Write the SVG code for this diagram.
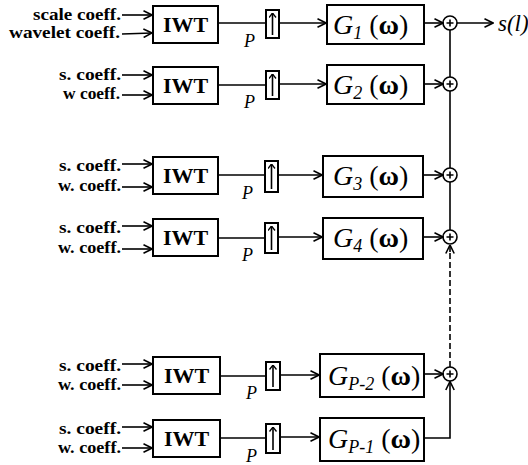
<svg xmlns="http://www.w3.org/2000/svg" width="528" height="465" viewBox="0 0 528 465">
<style>
.bx{fill:#fff;stroke:#000;stroke-width:2}
.ln{fill:none;stroke:#000;stroke-width:1.6}
.ar{fill:none;stroke:#000;stroke-width:1.6;marker-end:url(#chev)}
text{font-family:'Liberation Serif','DejaVu Serif',serif}
.lbl{font-weight:bold;font-size:17px;text-anchor:end}
.lbl1{font-weight:bold;font-size:16px;text-anchor:end}
.iwt{font-weight:bold;font-size:22px;text-anchor:middle}
.p{font-style:italic;font-size:18px}
.g{font-size:28px}
.gi{font-style:italic}
.sub{font-style:italic;font-size:18px}
.om{font-weight:bold}
.out{font-style:italic;font-size:23px}
.add{fill:#fff;stroke:#000;stroke-width:1.6}
</style>
<defs>
<marker id="chev" viewBox="0 0 10 10" refX="9.5" refY="5" markerWidth="10" markerHeight="10" markerUnits="userSpaceOnUse" orient="auto">
<path d="M1,0.8 L9.5,5 L1,9.2" fill="none" stroke="#000" stroke-width="1.6"/>
</marker>
<marker id="up" viewBox="0 0 8 8" refX="4" refY="0.5" markerWidth="8" markerHeight="8" markerUnits="userSpaceOnUse" orient="0">
<path d="M0.5,5 L4,0.5 L7.5,5" fill="none" stroke="#000" stroke-width="1.3"/>
</marker>
</defs>

<!-- inputs / labels -->
<g id="labels">
<text class="lbl1" x="121" y="19.5" textLength="88" lengthAdjust="spacingAndGlyphs">scale coeff.</text>
<text class="lbl1" x="120" y="37.5" textLength="111" lengthAdjust="spacingAndGlyphs">wavelet coeff.</text>
<text class="lbl" x="121" y="80" textLength="62" lengthAdjust="spacingAndGlyphs">s. coeff.</text>
<text class="lbl" x="120" y="99" textLength="57" lengthAdjust="spacingAndGlyphs">w coeff.</text>
<text class="lbl" x="121" y="171" textLength="62" lengthAdjust="spacingAndGlyphs">s. coeff.</text>
<text class="lbl" x="121" y="191" textLength="63" lengthAdjust="spacingAndGlyphs">w. coeff.</text>
<text class="lbl" x="121" y="233" textLength="62" lengthAdjust="spacingAndGlyphs">s. coeff.</text>
<text class="lbl" x="121" y="253" textLength="63" lengthAdjust="spacingAndGlyphs">w. coeff.</text>
<text class="lbl" x="121" y="371" textLength="62" lengthAdjust="spacingAndGlyphs">s. coeff.</text>
<text class="lbl" x="121" y="390" textLength="63" lengthAdjust="spacingAndGlyphs">w. coeff.</text>
<text class="lbl" x="121" y="434" textLength="62" lengthAdjust="spacingAndGlyphs">s. coeff.</text>
<text class="lbl" x="121" y="453" textLength="63" lengthAdjust="spacingAndGlyphs">w. coeff.</text>
<text class="p" x="244" y="47">P</text>
<text class="p" x="244" y="108">P</text>
<text class="p" x="242" y="199">P</text>
<text class="p" x="242" y="261">P</text>
<text class="p" x="246" y="399">P</text>
<text class="p" x="246" y="462">P</text>
<text class="out" x="498" y="31">s(l)</text>
</g>

<!-- IWT blocks -->
<g id="iwt1"><rect class="bx" x="153" y="6" width="65" height="37"/><text class="iwt" x="185.5" y="32">IWT</text></g>
<g id="iwt2"><rect class="bx" x="153" y="67" width="65" height="37"/><text class="iwt" x="185.5" y="93">IWT</text></g>
<g id="iwt3"><rect class="bx" x="153" y="157" width="65" height="37"/><text class="iwt" x="185.5" y="183">IWT</text></g>
<g id="iwt4"><rect class="bx" x="153" y="219" width="65" height="37"/><text class="iwt" x="185.5" y="245">IWT</text></g>
<g id="iwt5"><rect class="bx" x="153" y="357" width="67" height="37"/><text class="iwt" x="186.5" y="383">IWT</text></g>
<g id="iwt6"><rect class="bx" x="153" y="420" width="67" height="37"/><text class="iwt" x="186.5" y="446">IWT</text></g>

<!-- upsamplers -->
<g id="up1"><rect class="bx" x="266" y="10" width="13" height="28"/><line class="ln" x1="272.5" y1="35" x2="272.5" y2="13" stroke-width="1.3" marker-end="url(#up)"/></g>
<g id="up2"><rect class="bx" x="266" y="71" width="13" height="28"/><line class="ln" x1="272.5" y1="96" x2="272.5" y2="74" stroke-width="1.3" marker-end="url(#up)"/></g>
<g id="up3"><rect class="bx" x="265" y="161" width="13" height="31"/><line class="ln" x1="271.5" y1="189" x2="271.5" y2="164" stroke-width="1.3" marker-end="url(#up)"/></g>
<g id="up4"><rect class="bx" x="265" y="223" width="13" height="30"/><line class="ln" x1="271.5" y1="250" x2="271.5" y2="226" stroke-width="1.3" marker-end="url(#up)"/></g>
<g id="up5"><rect class="bx" x="266" y="362" width="14" height="28"/><line class="ln" x1="273" y1="387" x2="273" y2="365" stroke-width="1.3" marker-end="url(#up)"/></g>
<g id="up6"><rect class="bx" x="266" y="424" width="14" height="29"/><line class="ln" x1="273" y1="450" x2="273" y2="427" stroke-width="1.3" marker-end="url(#up)"/></g>

<!-- filters -->
<g id="g1"><rect class="bx" x="327" y="5" width="97" height="39"/><text class="g" x="333" y="34"><tspan class="gi">G</tspan><tspan class="sub" dy="5">1</tspan><tspan dy="-5"> (</tspan><tspan class="om">ω</tspan>)</text></g>
<g id="g2"><rect class="bx" x="327" y="65" width="97" height="39"/><text class="g" x="333" y="94"><tspan class="gi">G</tspan><tspan class="sub" dy="5">2</tspan><tspan dy="-5"> (</tspan><tspan class="om">ω</tspan>)</text></g>
<g id="g3"><rect class="bx" x="323" y="156" width="100" height="41"/><text class="g" x="333" y="185"><tspan class="gi">G</tspan><tspan class="sub" dy="5">3</tspan><tspan dy="-5"> (</tspan><tspan class="om">ω</tspan>)</text></g>
<g id="g4"><rect class="bx" x="323" y="218" width="100" height="41"/><text class="g" x="333" y="247"><tspan class="gi">G</tspan><tspan class="sub" dy="5">4</tspan><tspan dy="-5"> (</tspan><tspan class="om">ω</tspan>)</text></g>
<g id="g5"><rect class="bx" x="320" y="354" width="104" height="43"/><text class="g" x="328" y="385"><tspan class="gi">G</tspan><tspan class="sub" dy="5">P-2</tspan><tspan dy="-5"> (</tspan><tspan class="om">ω</tspan>)</text></g>
<g id="g6"><rect class="bx" x="320" y="418" width="104" height="43"/><text class="g" x="328" y="448"><tspan class="gi">G</tspan><tspan class="sub" dy="5">P-1</tspan><tspan dy="-5"> (</tspan><tspan class="om">ω</tspan>)</text></g>

<!-- adders -->
<g id="add1"><circle class="add" cx="450" cy="23" r="7"/><path class="ln" d="M446.5,23 H453.5 M450,19.5 V26.5" stroke-width="1.2"/></g>
<g id="add2"><circle class="add" cx="450" cy="84" r="7"/><path class="ln" d="M446.5,84 H453.5 M450,80.5 V87.5" stroke-width="1.2"/></g>
<g id="add3"><circle class="add" cx="450" cy="175" r="7"/><path class="ln" d="M446.5,175 H453.5 M450,171.5 V178.5" stroke-width="1.2"/></g>
<g id="add4"><circle class="add" cx="450" cy="237" r="7"/><path class="ln" d="M446.5,237 H453.5 M450,233.5 V240.5" stroke-width="1.2"/></g>
<g id="add5"><circle class="add" cx="450" cy="374" r="7"/><path class="ln" d="M446.5,374 H453.5 M450,370.5 V377.5" stroke-width="1.2"/></g>

<!-- connectors -->
<g id="connectors">
<line class="ar" x1="122" y1="15" x2="152" y2="15"/>
<line class="ar" x1="122" y1="34" x2="152" y2="33"/>
<line class="ar" x1="122" y1="75" x2="152" y2="75"/>
<line class="ar" x1="122" y1="95" x2="152" y2="95"/>
<line class="ar" x1="122" y1="164" x2="152" y2="164"/>
<line class="ar" x1="122" y1="187" x2="152" y2="187"/>
<line class="ar" x1="122" y1="226" x2="152" y2="226"/>
<line class="ar" x1="122" y1="249" x2="152" y2="249"/>
<line class="ar" x1="122" y1="364" x2="152" y2="364"/>
<line class="ar" x1="122" y1="385" x2="152" y2="385"/>
<line class="ar" x1="122" y1="427" x2="152" y2="427"/>
<line class="ar" x1="122" y1="448" x2="152" y2="448"/>

<line class="ln" x1="218" y1="23" x2="266" y2="23"/>
<line class="ln" x1="218" y1="85" x2="266" y2="85"/>
<line class="ln" x1="218" y1="175" x2="265" y2="175"/>
<line class="ln" x1="218" y1="238" x2="265" y2="238"/>
<line class="ln" x1="220" y1="376" x2="266" y2="376"/>
<line class="ln" x1="220" y1="438" x2="266" y2="438"/>

<line class="ar" x1="279" y1="23" x2="326" y2="23"/>
<line class="ar" x1="279" y1="84" x2="326" y2="84"/>
<line class="ar" x1="278" y1="175" x2="322" y2="175"/>
<line class="ar" x1="278" y1="237" x2="322" y2="237"/>
<line class="ar" x1="280" y1="375" x2="319" y2="375"/>
<line class="ar" x1="280" y1="437" x2="319" y2="437"/>

<line class="ar" x1="424" y1="23" x2="443" y2="23"/>
<line class="ar" x1="424" y1="84" x2="443" y2="84"/>
<line class="ar" x1="423" y1="175" x2="443" y2="175"/>
<line class="ar" x1="423" y1="237" x2="443" y2="237"/>
<line class="ar" x1="424" y1="374" x2="443" y2="374"/>
<polyline class="ar" points="424,438 450,438 450,381.5"/>

<line class="ar" x1="457" y1="23" x2="493" y2="23"/>

<line class="ln" x1="450" y1="30" x2="450" y2="77"/>
<line class="ln" x1="450" y1="91" x2="450" y2="168"/>
<line class="ln" x1="450" y1="182" x2="450" y2="230"/>
<line class="ln" x1="450" y1="367" x2="450" y2="252" stroke-dasharray="6,3" stroke-width="1.8"/>
<line class="ar" x1="450" y1="252" x2="450" y2="245"/>
</g>
</svg>
